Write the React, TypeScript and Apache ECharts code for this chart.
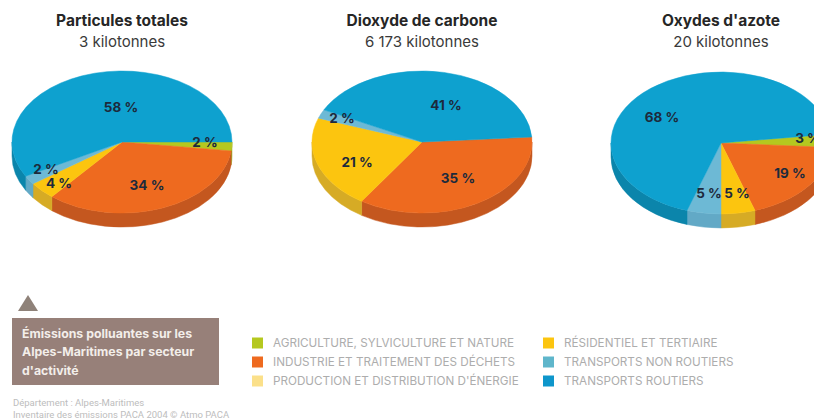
import React, { useEffect, useRef } from "react";
import * as echarts from "echarts";

// Emission sectors, in clockwise drawing order
const sectors = [
  "AGRICULTURE, SYLVICULTURE ET NATURE",
  "INDUSTRIE ET TRAITEMENT DES DÉCHETS",
  "PRODUCTION ET DISTRIBUTION D'ÉNERGIE",
  "RÉSIDENTIEL ET TERTIAIRE",
  "TRANSPORTS NON ROUTIERS",
  "TRANSPORTS ROUTIERS",
];

// Share of each sector, in percent
const particulesValues = [2, 34, 0, 4, 2, 58];
const carboneValues = [0, 35, 0, 21, 2, 41];
const azoteValues = [3, 19, 0, 5, 5, 68];

const pollutants = ["Particules totales", "Dioxyde de carbone", "Oxydes d'azote"];
const tonnages = ["3 kilotonnes", "6 173 kilotonnes", "20 kilotonnes"];

const legendTitle = ["Émissions polluantes sur les", "Alpes-Maritimes par secteur", "d'activité"];
const sourceLines = ["Département : Alpes-Maritimes", "Inventaire des émissions PACA 2004 © Atmo PACA"];

// Styling and layout
const topColors = ["#b5c81f", "#ee6a1f", "#fbe08a", "#fcc50f", "#6db9d5", "#0ea1cf"];
const sideColors = ["#98a81c", "#c4571f", "#d8c070", "#d6ab25", "#62a9c6", "#0b85ab"];
const legendColors = ["#b5c81f", "#ee6a1f", "#fbe08a", "#fcc50f", "#5fb6cb", "#0e96cb"];

const RX = 110;
const RY = 71;
const DEPTH = 14;
const pies = [
  { cx: 122, cy: 142, start: 0, values: particulesValues },
  { cx: 422, cy: 142, start: -4, values: carboneValues },
  { cx: 721, cy: 143, start: -7.2, values: azoteValues },
];

// Label anchors relative to each pie's centre, one per sector
const labelOffsets: ([number, number] | null)[][] = [
  [[83, 0], [25, 43], null, [-63, 41], [-76, 27], [-1, -35]],
  [null, [36, 36], null, [-65, 20], [-80, -24], [24, -37]],
  [[87, -5], [69, 30], null, [16, 50], [-12, 50], [-59, -26]],
];

const point = (cx: number, cy: number, t: number, dy = 0) => {
  const a = (t * Math.PI) / 180;
  return [cx + RX * Math.cos(a), cy + RY * Math.sin(a) + dy];
};

const topPath = (cx: number, cy: number, t0: number, t1: number) => {
  const [x0, y0] = point(cx, cy, t0);
  const [x1, y1] = point(cx, cy, t1);
  const large = t1 - t0 > 180 ? 1 : 0;
  return `M${cx} ${cy}L${x0} ${y0}A${RX} ${RY} 0 ${large} 1 ${x1} ${y1}Z`;
};

// The rim is only visible on the front half of the ellipse
const sidePath = (cx: number, cy: number, t0: number, t1: number) => {
  const a = Math.max(t0, 0);
  const b = Math.min(t1, 180);
  if (b <= a) return null;
  const [x0, y0] = point(cx, cy, a);
  const [x1, y1] = point(cx, cy, b);
  const [x2, y2] = point(cx, cy, b, DEPTH);
  const [x3, y3] = point(cx, cy, a, DEPTH);
  return (
    `M${x0} ${y0}A${RX} ${RY} 0 0 1 ${x1} ${y1}` +
    `L${x2} ${y2}A${RX} ${RY} 0 0 0 ${x3} ${y3}Z`
  );
};

const pieSeries = (pieIndex: number) => {
  const pie = pies[pieIndex];
  const total = pie.values.reduce((s, v) => s + v, 0);
  return {
    type: "custom",
    coordinateSystem: "none",
    silent: true,
    data: pie.values.map((v) => [v]),
    renderItem: (params: any, api: any) => {
      const i = params.dataIndex;
      const value = api.value(0);
      if (!value) return { type: "group", children: [] };
      const before = pie.values.slice(0, i).reduce((s, v) => s + v, 0);
      const t0 = pie.start + (before / total) * 360;
      const t1 = t0 + (value / total) * 360;
      const children: any[] = [];
      const side = sidePath(pie.cx, pie.cy, t0, t1);
      if (side) {
        children.push({
          type: "path",
          shape: { pathData: side },
          style: { fill: sideColors[i], stroke: sideColors[i], lineWidth: 0.5 },
        });
      }
      children.push({
        type: "path",
        shape: { pathData: topPath(pie.cx, pie.cy, t0, t1) },
        style: { fill: topColors[i], stroke: topColors[i], lineWidth: 0.5 },
      });
      return { type: "group", children };
    },
  };
};

// Percent labels go in a last pass so no slice paints over them
const labelSeries = () => ({
  type: "custom",
  coordinateSystem: "none",
  silent: true,
  z: 5,
  data: pies.flatMap((p, pi) => p.values.map((v, si) => [v, pi, si])),
  renderItem: (_: any, api: any) => {
    const value = api.value(0);
    const pi = api.value(1);
    const offset = labelOffsets[pi][api.value(2)];
    if (!value || !offset) return { type: "group", children: [] };
    return {
      type: "text",
      style: {
        x: pies[pi].cx + offset[0],
        y: pies[pi].cy + offset[1],
        text: `${value} %`,
        fill: "#1d2a3c",
        font: "bold 13.5px Inter",
        align: "center",
        verticalAlign: "middle",
      },
    };
  },
});

const headings = () =>
  pies.flatMap((p, i) => [
    {
      type: "text",
      style: {
        x: p.cx,
        y: 20,
        text: pollutants[i],
        fill: "#262626",
        font: "bold 15.5px Inter",
        align: "center",
        verticalAlign: "middle",
      },
    },
    {
      type: "text",
      style: {
        x: p.cx,
        y: 41,
        text: tonnages[i],
        fill: "#3a3a3a",
        font: "15px Inter",
        align: "center",
        verticalAlign: "middle",
      },
    },
  ]);

const legendItems = () =>
  sectors.flatMap((name, i) => {
    const col = i < 3 ? 0 : 1;
    const row = i % 3;
    const x = col === 0 ? 252 : 543;
    const y = 343 + row * 19;
    return [
      {
        type: "rect",
        shape: { x, y: y - 5.5, width: 11, height: 11 },
        style: { fill: legendColors[i] },
      },
      {
        type: "text",
        style: {
          x: x + 21,
          y,
          text: name,
          fill: "#adadad",
          font: "11.7px Inter",
          verticalAlign: "middle",
        },
      },
    ];
  });

const legendBox = () => [
  {
    type: "polygon",
    shape: { points: [[28, 295], [38, 311], [18, 311]] },
    style: { fill: "#8f8279" },
  },
  {
    type: "rect",
    shape: { x: 12, y: 318, width: 207, height: 67 },
    style: { fill: "#978079" },
  },
  ...legendTitle.map((line, i) => ({
    type: "text",
    style: {
      x: 22,
      y: 333 + i * 18.5,
      text: line,
      fill: "#f3eeea",
      font: "bold 12.3px Inter",
      verticalAlign: "middle",
    },
  })),
  ...sourceLines.map((line, i) => ({
    type: "text",
    style: {
      x: 13,
      y: 402 + i * 12.5,
      text: line,
      fill: "#bdbdbd",
      font: "9.5px Roboto",
      verticalAlign: "middle",
    },
  })),
];

export default function App() {
  const ref = useRef<HTMLDivElement>(null);

  useEffect(() => {
    document.body.style.margin = "0";
    const chart = echarts.init(ref.current!, null, { renderer: "svg" });
    chart.setOption({
      animation: false,
      backgroundColor: "#ffffff",
      series: [pieSeries(0), pieSeries(1), pieSeries(2), labelSeries()],
      graphic: { elements: [...headings(), ...legendItems(), ...legendBox()] },
    });
    return () => chart.dispose();
  }, []);

  return <div ref={ref} style={{ width: 814, height: 419 }} />;
}
